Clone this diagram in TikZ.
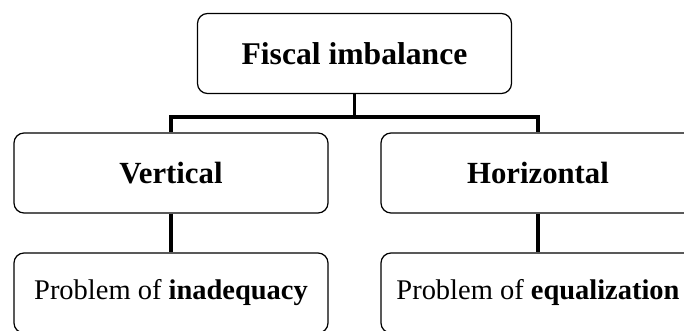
\documentclass[tikz,border=0pt]{standalone}
\usepackage{fontspec}
\setmainfont{Liberation Serif}
\usetikzlibrary{positioning}

\begin{document}
\begin{tikzpicture}[thick,
  main node/.style={rectangle,rounded corners=0.2cm,draw,line width=0.7pt,
    minimum width=6.28cm,minimum height=1.6cm,font=\fontsize{17.5}{21}\selectfont},
  leaf node/.style={main node,font=\fontsize{16.2}{20}\selectfont}]

  \useasboundingbox (0,0) rectangle (13.68,6.62);
  \clip (0,0) rectangle (13.68,6.62);

  \node[main node,font=\fontsize{18}{22}\selectfont] (1) at (7.09,5.55) {\textbf{Fiscal imbalance}};
  \node[main node] (2) at (3.42,3.16) {\textbf{Vertical}};
  \node[main node] (3) at (10.76,3.16) {\textbf{Horizontal}};
  \node[leaf node] (4) at (3.42,0.76) {Problem of \textbf{inadequacy}};
  \node[leaf node] (5) at (10.76,0.76) {Problem of \textbf{equalization}};

  \coordinate (bar) at (7.09,4.28);

  \path[draw,line width=1.8pt]
  (1) -- (bar) -| (2.north)
  (bar) -| (3.north)
  (2) -- (4)
  (3) -- (5);
\end{tikzpicture}
\end{document}
